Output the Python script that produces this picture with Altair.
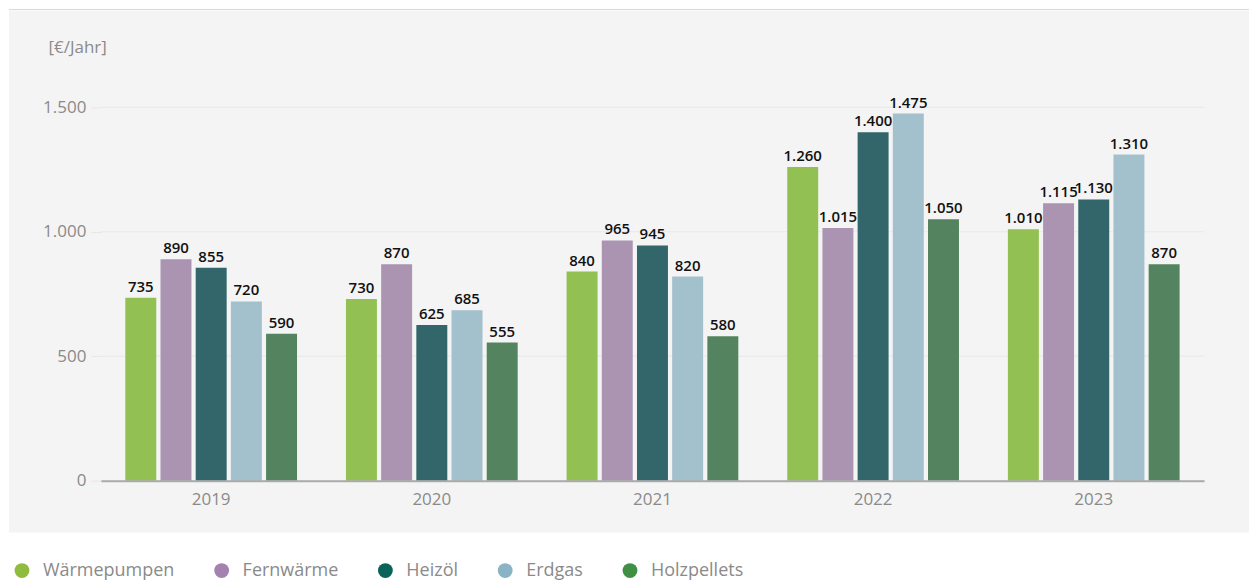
import altair as alt
import pandas as pd

years = ["2019", "2020", "2021", "2022", "2023"]
series = ["Wärmepumpen", "Fernwärme", "Heizöl", "Erdgas", "Holzpellets"]
waermepumpen = [735, 730, 840, 1260, 1010]
fernwaerme = [890, 870, 965, 1015, 1115]
heizoel = [855, 625, 945, 1400, 1130]
erdgas = [720, 685, 820, 1475, 1310]
holzpellets = [590, 555, 580, 1050, 870]
y_ticks = [0, 500, 1000, 1500]

bar_colors = ["#93c052", "#aa94b2", "#32666a", "#a3c0cd", "#54845f"]
legend_colors = ["#8fbc3f", "#a482b0", "#0a6358", "#8ab4c6", "#3f8f44"]

rows = []
for s, vals in zip(series, [waermepumpen, fernwaerme, heizoel, erdgas, holzpellets]):
    for yr, v in zip(years, vals):
        rows.append({"Jahr": yr, "Heizung": s, "Kosten": v})
df = pd.DataFrame(rows)
grid_df = pd.DataFrame({"Kosten": y_ticks})
one = pd.DataFrame({"k": [0]})

FONT = "Open Sans"
GRAY = "#8a8a8a"
W, H = 1105, 374

x_enc = alt.X(
    "Jahr:N", sort=years,
    scale=alt.Scale(paddingInner=0, paddingOuter=0),
    axis=alt.Axis(title=None, labelAngle=0, ticks=False, domainColor="#aaaaaa",
                  domainWidth=2, labelColor=GRAY, labelFontSize=17, labelPadding=11,
                  labelFont=FONT, zindex=1),
)
y_enc = alt.Y(
    "Kosten:Q",
    scale=alt.Scale(domain=[0, 1500], nice=False),
    axis=alt.Axis(values=y_ticks, title="[€/Jahr]", titleAngle=0, titleAlign="left",
                  titleBaseline="middle", titleX=-53, titleY=-60, titleColor=GRAY,
                  titleFontWeight="normal", titleFontSize=17, titleFont=FONT,
                  labelExpr="replace(format(datum.value, ','), ',', '.')",
                  grid=False, domain=False, tickColor="#e6e6e6", tickSize=10,
                  labelPadding=5, labelColor=GRAY, labelFontSize=17, labelFont=FONT,
                  zindex=1),
)
xoff = alt.XOffset("Heizung:N", sort=series,
                   scale=alt.Scale(paddingInner=0.12, paddingOuter=0.695))

bg = alt.Chart(one).mark_rect(color="#f4f4f4").encode(
    x=alt.value(-92), x2=alt.value(1150), y=alt.value(-97), y2=alt.value(H + 52)
)
topline = alt.Chart(one).mark_rule(color="#d9d9d9", strokeWidth=1).encode(
    x=alt.value(-92), x2=alt.value(1150), y=alt.value(-98)
)
grid = alt.Chart(grid_df).mark_rule(color="#e8e8e8", strokeWidth=1).encode(
    y=alt.Y("Kosten:Q"), x=alt.value(0), x2=alt.value(W)
)
bars = alt.Chart(df).mark_bar().encode(
    x=x_enc, y=y_enc, xOffset=xoff,
    color=alt.Color("Heizung:N", sort=series,
                    scale=alt.Scale(domain=series, range=bar_colors), legend=None),
)
labels = alt.Chart(df).transform_calculate(
    label="replace(format(datum.Kosten, ','), ',', '.')"
).mark_text(baseline="bottom", dy=-3, fontSize=15, fontWeight=600, color="#111111",
            font=FONT).encode(
    x=alt.X("Jahr:N", sort=years), y=alt.Y("Kosten:Q"), xOffset=xoff, text="label:N"
)
legend_layer = alt.Chart(df).mark_point(filled=True, opacity=0).encode(
    color=alt.Color("Heizung:N", sort=series,
                    scale=alt.Scale(domain=series, range=legend_colors),
                    legend=alt.Legend(title=None, orient="none", legendX=-88, legendY=455,
                                      direction="horizontal", symbolType="circle",
                                      symbolSize=220, symbolOpacity=1, symbolStrokeWidth=0,
                                      labelFontSize=18, labelColor=GRAY, labelFont=FONT,
                                      labelOffset=12, columnPadding=38)),
)

chart = alt.layer(bg, topline, grid, bars, labels, legend_layer).resolve_scale(
    color="independent"
).properties(width=W, height=H, padding=0, background="white").configure_view(stroke=None)

chart.save("out.html", embed_options={"renderer": "svg", "actions": False})
